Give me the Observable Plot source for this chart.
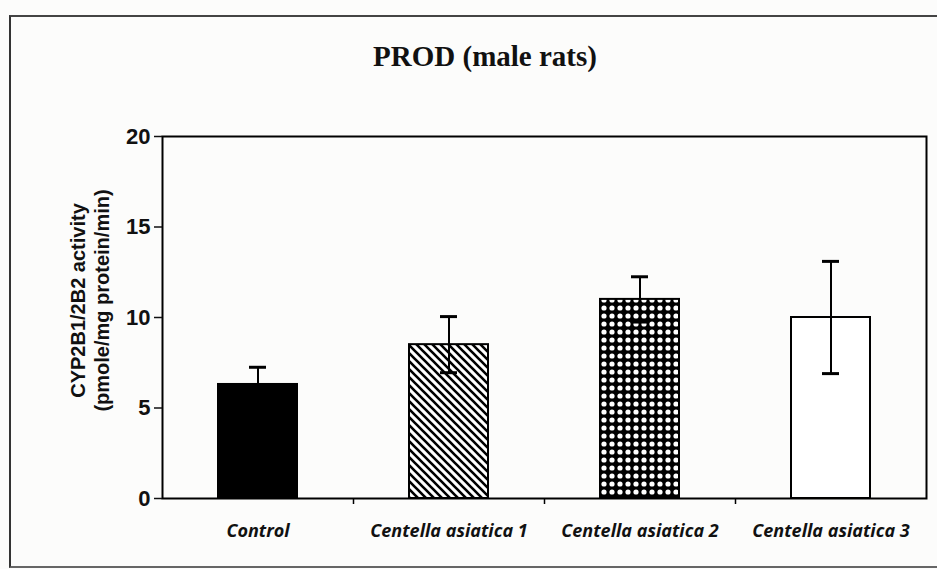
<!DOCTYPE html>
<html><head><meta charset="utf-8">
<script src="https://cdn.jsdelivr.net/npm/d3@7"></script>
<script src="https://cdn.jsdelivr.net/npm/@observablehq/plot@0.6"></script>
<style>
body{margin:0;background:#fff;}
#wrap{position:relative;width:937px;height:569px;overflow:hidden;background:#fcfcfb;}
#frame{position:absolute;left:9px;top:15px;width:940px;height:549px;border-left:2px solid #333;border-top:2px solid #444;border-bottom:2px solid #666;}
#title{position:absolute;left:285px;width:400px;top:40px;text-align:center;font:bold 29px "Liberation Serif",serif;color:#111;}
#chart{position:absolute;left:0;top:0;}
</style>
</head><body>
<div id="wrap"><div id="frame"></div><div id="title"></div><div id="chart"></div></div>
<script>
const title = "PROD (male rats)";
const categories = ["Control", "Centella asiatica 1", "Centella asiatica 2", "Centella asiatica 3"];
const means = [6.3, 8.5, 11.0, 10.0];
const errors = [0.95, 1.55, 1.25, 3.1];
const fills = ["black", "url(#diag)", "url(#dots)", "white"];
const yTicks = [0, 5, 10, 15, 20];
const yLabel = ["CYP2B1/2B2 activity", "(pmole/mg protein/min)"];

document.getElementById("title").textContent = title;

const rows = categories.map((c, i) => ({cat: c, mean: means[i], err: errors[i], fill: fills[i]}));

const chart = Plot.plot({
  width: 937,
  height: 569,
  marginTop: 136,
  marginBottom: 71,
  marginLeft: 162,
  marginRight: 11,
  style: {background: "transparent", color: "#111"},
  x: {domain: categories, padding: 0, axis: null},
  y: {domain: [0, 20], axis: null},
  color: {type: "identity"},
  marks: [
    Plot.barY(rows, {x: "cat", y: "mean", fill: "fill", stroke: "black", strokeWidth: 2, insetLeft: 56, insetRight: 56}),
    Plot.ruleX(rows, {x: "cat", y1: d => d.mean - d.err, y2: d => d.mean + d.err, stroke: "black", strokeWidth: 2}),
    Plot.tickY(rows, {x: "cat", y: d => d.mean + d.err, insetLeft: 87, insetRight: 87, stroke: "black", strokeWidth: 3}),
    Plot.tickY(rows, {x: "cat", y: d => d.mean - d.err, insetLeft: 87, insetRight: 87, stroke: "black", strokeWidth: 3}),
    Plot.frame({stroke: "black", strokeWidth: 2}),
    Plot.axisY({ticks: yTicks, tickSize: 8, tickPadding: 4, label: null, fontSize: 22, fontWeight: "bold", fontFamily: "Liberation Sans", strokeWidth: 1.5}),
    Plot.axisX({tickSize: 0, tickPadding: 26, label: null, fontSize: 18, fontStyle: "italic", fontWeight: 700, fontFamily: "Open Sans"}),
    Plot.ruleX(categories.slice(1), {x: d => d, dx: -95.5, y1: 0, y2: 0, insetBottom: -6, stroke: "black", strokeWidth: 1.5}),
    Plot.text([yLabel.join("\n")], {frameAnchor: "left", textAnchor: "middle", rotate: -90, dx: -73, dy: -17, fontSize: 20, fontWeight: "bold", fontFamily: "Liberation Sans", lineHeight: 1.2, fill: "#111"})
  ]
});

const defs = d3.select(chart).insert("defs", ":first-child");
const diag = defs.append("pattern").attr("id", "diag").attr("patternUnits", "userSpaceOnUse").attr("width", 8).attr("height", 8);
diag.append("rect").attr("width", 8).attr("height", 8).attr("fill", "white");
diag.append("path").attr("d", "M-2,-2L10,10M-2,6L2,10M6,-2L10,2").attr("stroke", "black").attr("stroke-width", 2.6);
const dots = defs.append("pattern").attr("id", "dots").attr("patternUnits", "userSpaceOnUse").attr("width", 8).attr("height", 8);
dots.append("rect").attr("width", 8).attr("height", 8).attr("fill", "black");
dots.append("circle").attr("cx", 4).attr("cy", 4).attr("r", 2.6).attr("fill", "white");

document.getElementById("chart").appendChild(chart);
</script>
</body></html>
